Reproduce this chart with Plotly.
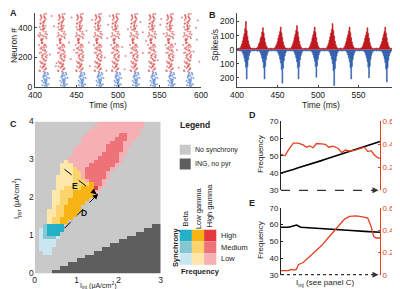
import plotly.graph_objects as go

FONT = "Liberation Sans, Arial, sans-serif"
W, H = 400, 289
TXT = "#222222"
RED_LINE = "#e2401e"


def px(x):
    return x / W


def py(y):
    return 1 - y / H


# ---------------- Panel A: raster ----------------
pyr_burst_t = [409.6, 431.7, 453.7, 475.9, 496.7, 519.3, 541.0, 562.3, 583.5]
int_burst_t = [411.5, 433.5, 455.5, 477.0, 498.5, 520.5, 542.0, 563.5, 585.5]
pyr_spike_offset = [-4.1, 1.2, -0.5, 3.3, -2.7, 0.8, 2.1, -1.6, 4.2, -3.4,
                    0.1, 1.9, -0.9, 2.8, -2.2, 3.9, -1.1, 0.5, -3.8, 1.5,
                    2.5, -0.3, -2.9, 3.1, 0.9, -1.9, 4.6, -4.5, 1.7, -0.7,
                    2.3, -2.4, 0.3, 3.6, -1.4, -3.1, 1.1, 2.7, -0.1, -2.0,
                    4.0, 0.6, -3.6, 1.4, -1.2, 2.9, -0.4, 3.4, -2.6, 0.0,
                    1.8, -4.8, 2.2, -1.7, 0.7, 3.7, -0.8, -3.2, 1.3, 5.0,
                    -3.0, 2.0, -1.0, 0.4, 3.0, -2.1, 1.0, -0.2, 2.6, -3.5,
                    0.7, -1.5, 4.4, -2.8, 1.6, -0.6, 3.2, -4.0, 0.2, 2.4,
                    -1.3, 3.8, -2.3, 1.1, -0.4, 2.0, -3.3, 0.9, 4.1, -1.8]
pyr_spike_neuron = [112, 478, 301, 205, 389, 143, 447, 256, 330, 172,
                    421, 288, 129, 360, 233, 495, 318, 190, 405, 266,
                    152, 437, 351, 121, 279, 463, 214, 341, 398, 168,
                    245, 480, 135, 373, 296, 452, 186, 224, 409, 327,
                    272, 105, 365, 491, 198, 414, 157, 339, 430, 249,
                    117, 283, 468, 310, 222, 180, 387, 261, 444, 355,
                    139, 470, 215, 396, 284, 162, 433, 325, 250, 108,
                    377, 297, 199, 486, 141, 348, 458, 230, 412, 176,
                    268, 126, 317, 392, 209, 156, 428, 342, 237, 471]
int_spike_offset = [-2.5, 0.5, 1.8, -1.2, 3.0, 0.0, 2.4, -0.6, 1.1, 4.2,
                    -1.8, 0.9, 2.9, -0.2, 1.5, 3.6, -2.9, 0.3, 2.1, 5.5,
                    -0.9, 1.3, 2.6, 0.7, 4.8]
int_spike_neuron = [12, 45, 78, 30, 62, 90, 5, 55, 22, 85,
                    68, 38, 15, 72, 50, 95, 42, 8, 33, 60,
                    80, 25, 48, 98, 18]
pyr_bg_t = [404, 418, 423, 426, 441, 444, 447, 462, 466, 469,
            484, 487, 490, 505, 508, 512, 527, 530, 534, 548,
            551, 555, 569, 573, 577, 591, 594, 598, 420, 465,
            509, 552, 595, 425, 488, 530, 571, 443, 486, 596]
pyr_bg_n = [350, 220, 410, 160, 300, 470, 250, 380, 140, 455,
            200, 330, 480, 270, 120, 390, 440, 230, 310, 180,
            420, 360, 290, 130, 470, 240, 400, 170, 480, 300,
            210, 460, 320, 140, 420, 370, 250, 190, 110, 450]

# ---------------- Panel B: population rates (1 ms bins from 400 ms) ----------------
pyr_rate = [9, 7, 10, 8,
            14, 24, 40, 62, 88, 112, 150, 200, 135, 95, 62, 36, 20, 11,
            8, 10, 7, 12, 9, 8, 11,
            13, 22, 41, 52, 80, 94, 125, 155, 118, 82, 50, 30, 17, 10,
            9, 7, 11, 8, 10, 9, 7, 12,
            14, 25, 40, 58, 82, 104, 128, 160, 120, 86, 54, 32, 18, 11,
            8, 10, 9, 7, 11, 9,
            15, 26, 42, 62, 88, 110, 138, 170, 128, 90, 58, 34, 19, 10,
            9, 7, 10, 8, 11, 9, 7, 10,
            13, 24, 40, 58, 84, 106, 130, 160, 122, 86, 52, 30, 17, 10,
            8, 10, 7, 9, 11, 8, 10, 9,
            15, 28, 44, 66, 92, 118, 145, 185, 136, 96, 60, 35, 19, 11,
            9, 7, 10, 12, 8, 9, 7,
            14, 24, 41, 60, 84, 106, 132, 160, 120, 85, 54, 31, 18, 10,
            8, 11, 9, 7, 10, 8, 9, 11,
            13, 23, 38, 56, 80, 102, 126, 155, 116, 82, 50, 29, 16, 10,
            9, 7, 10, 8, 11, 9, 7, 10,
            14, 25, 40, 58, 84, 106, 130, 160, 118, 84, 52, 30, 17, 10,
            8, 10, 7, 9, 8, 11, 9, 14, 22, 38, 55]
int_rate = [6, 9, 5, 8, 10, 7,
            12, 22, 38, 60, 85, 125, 208, 120, 72, 42, 22, 12,
            8, 6, 10, 7, 9, 5, 8, 11, 7, 9,
            13, 24, 40, 62, 88, 130, 208, 118, 70, 40, 21, 11,
            7, 9, 6, 10, 8, 5, 9, 7, 10, 8,
            14, 26, 42, 66, 95, 140, 238, 130, 78, 45, 24, 12,
            8, 6, 9, 7, 10, 6, 8, 9,
            12, 22, 38, 60, 86, 128, 208, 120, 70, 40, 22, 11,
            7, 9, 6, 10, 8, 7, 9, 6, 10, 8,
            12, 21, 36, 58, 82, 120, 196, 115, 68, 38, 20, 11,
            8, 6, 9, 7, 10, 8, 6, 9, 7, 10,
            14, 26, 44, 68, 98, 150, 255, 135, 80, 46, 24, 12,
            7, 9, 6, 10, 8, 7, 9, 6, 8,
            12, 22, 38, 60, 86, 128, 208, 120, 70, 40, 22, 11,
            8, 6, 9, 7, 10, 8, 6, 9, 7, 10,
            12, 21, 37, 58, 84, 124, 200, 118, 68, 39, 21, 11,
            7, 9, 6, 10, 8, 7, 9, 6, 10, 8,
            13, 25, 42, 64, 92, 138, 230, 128, 75, 43, 23, 12,
            8, 6, 9, 7, 10, 6, 8, 9, 7, 12]
rate_t0 = 400

# ---------------- Panel C: regime map (rows: I_pyr 0..4 step 0.1, cols: I_int 0..3 step 0.1) ----------------
c_rows = [
    "g" * 4 + "d" * 26,
    "g" * 6 + "d" * 24,
    "g" * 8 + "d" * 22,
    "g" * 10 + "d" * 20,
    "g" * 12 + "d" * 18,
    "gg" + "bb" + "g" * 10 + "d" * 16,
    "g" + "bbb" + "g" * 12 + "d" * 14,
    "g" + "bbbb" + "g" * 13 + "d" * 12,
    "g" + "bbbb" + "g" * 15 + "d" * 10,
    "g" + "bBBBb" + "g" * 16 + "d" * 8,
    "g" + "bBTTT" + "g" * 18 + "d" * 6,
    "g" + "bBTTTT" + "g" * 19 + "d" * 4,
    "gg" + "BTTTT" + "g" * 21 + "d" * 2,
    "ggg" + "yYYOO" + "g" * 22,
    "ggg" + "yYYOOO" + "g" * 21,
    "ggg" + "yyYYOOO" + "g" * 20,
    "ggg" + "yyYYOOOO" + "g" * 19,
    "gggg" + "yYYOOOO" + "g" * 19,
    "gggg" + "yyYYOOOO" + "g" * 18,
    "gggg" + "yyYYOOOOO" + "g" * 17,
    "gggg" + "yyYYYOOOOO" + "g" * 16,
    "gggg" + "yyYYYOOOOOp" + "g" * 15,
    "ggggg" + "yyYYYYOOORp" + "g" * 14,
    "ggggg" + "yyyyYYYYOPPp" + "g" * 13,
    "ggggg" + "yyyyYYYpPPPp" + "g" * 13,
    "ggggg" + "yyyyYYpPPPPPp" + "g" * 12,
    "gggggg" + "yyyYYpPPPPPp" + "g" * 12,
    "gggggg" + "yyyYppPPPPPPp" + "g" * 11,
    "gggggg" + "yyyppppPPPPPPp" + "g" * 10,
    "g" * 7 + "y" + "p" * 6 + "P" * 6 + "p" + "g" * 9,
    "g" * 8 + "p" * 7 + "P" * 5 + "p" + "g" * 9,
    "g" * 9 + "p" * 7 + "P" * 4 + "pp" + "g" * 8,
    "g" * 9 + "p" * 8 + "P" * 4 + "p" + "g" * 8,
    "g" * 10 + "p" * 7 + "P" * 4 + "pp" + "g" * 7,
    "g" * 11 + "p" * 7 + "P" * 3 + "pp" + "g" * 7,
    "g" * 11 + "p" * 8 + "P" * 3 + "pp" + "g" * 6,
    "g" * 12 + "p" * 8 + "PP" + "ppp" + "g" * 5,
    "g" * 13 + "p" * 12 + "g" * 5,
    "g" * 14 + "p" * 12 + "g" * 4,
    "g" * 15 + "p" * 11 + "g" * 4,
]
regime_codes = ["g", "d", "b", "B", "T", "y", "Y", "O", "p", "P", "R"]
regime_colors = ["#c9c9c9", "#5e5e5e",
                 "#c9e6f1", "#86c6d1", "#22b1c6",
                 "#fde7a9", "#fcd46c", "#f6b512",
                 "#f6afb3", "#ee7378", "#e4393f"]
legend_freq = ["Beta", "Low gamma", "High gamma"]
legend_sync = ["High", "Medium", "Low"]
legend_grid = [["T", "O", "R"], ["B", "Y", "P"], ["b", "y", "p"]]
arrow_E = [(0.71, 2.74), (1.47, 2.09)]
arrow_D = [(0.71, 1.19), (1.51, 2.10)]

# ---------------- Panels D, E ----------------
d_x = [0, 0.04, 0.074, 0.124, 0.174, 0.224, 0.258, 0.291, 0.324, 0.358, 0.408, 0.448, 0.482,
       0.525, 0.575, 0.615, 0.649, 0.692, 0.742, 0.793, 0.843, 0.876, 0.91, 0.943, 0.977, 1.0]
d_freq = [40.0, 40.6, 41.2, 42.1, 43.1, 43.9, 44.6, 45.3, 45.8, 46.4, 47.2, 48.0, 48.6,
          49.4, 50.3, 51.0, 51.7, 52.5, 53.3, 54.3, 55.2, 55.8, 56.5, 57.2, 57.8, 58.3]
d_ppc = [0.313, 0.30, 0.35, 0.41, 0.41, 0.395, 0.375, 0.386, 0.37, 0.407, 0.404, 0.40, 0.375,
         0.383, 0.366, 0.328, 0.35, 0.342, 0.348, 0.36, 0.375, 0.337, 0.345, 0.307, 0.284, 0.278]
e_freq_x = [0, 0.074, 0.114, 0.157, 0.2, 0.308, 0.441, 0.575, 0.709, 0.843, 1.0]
e_freq = [58.5, 58.5, 59.0, 59.8, 58.5, 58.0, 57.5, 57.0, 56.5, 56.0, 55.5]
e_ppc_x = [0, 0.074, 0.107, 0.134, 0.157, 0.174, 0.224, 0.274, 0.341, 0.408, 0.475,
           0.542, 0.609, 0.642, 0.692, 0.759, 0.826, 0.876, 0.91, 0.936, 0.96, 1.0]
e_ppc = [0.036, 0.036, 0.048, 0.042, 0.05, 0.09, 0.11, 0.15, 0.20, 0.26, 0.33,
         0.40, 0.465, 0.50, 0.525, 0.53, 0.52, 0.51, 0.435, 0.345, 0.33, 0.33]

# =====================================================================
fig = go.Figure()

# A raster
rx, ry = [], []
for bt in pyr_burst_t:
    for o, n in zip(pyr_spike_offset, pyr_spike_neuron):
        rx.append(bt + o)
        ry.append(n)
rx += pyr_bg_t
ry += pyr_bg_n
bx, by = [], []
for bt in int_burst_t:
    for o, n in zip(int_spike_offset, int_spike_neuron):
        bx.append(bt + o)
        by.append(n)
fig.add_trace(go.Scatter(x=rx, y=ry, mode="markers", xaxis="x", yaxis="y",
                         marker=dict(size=2, color="rgba(214,68,68,0.62)", line=dict(width=0)),
                         hoverinfo="skip"))
fig.add_trace(go.Scatter(x=bx, y=by, mode="markers", xaxis="x", yaxis="y",
                         marker=dict(size=2, color="rgba(85,130,205,0.72)", line=dict(width=0)),
                         hoverinfo="skip"))

# B rates
t_pyr = [rate_t0 + i for i in range(len(pyr_rate))]
t_int = [rate_t0 + i for i in range(len(int_rate))]
fig.add_trace(go.Scatter(x=t_pyr, y=pyr_rate, mode="lines", line=dict(width=0.6, color="#b8141a", shape="hvh"),
                         fill="tozeroy", fillcolor="#c0181d", xaxis="x2", yaxis="y2", hoverinfo="skip"))
fig.add_trace(go.Scatter(x=t_int, y=[-v for v in int_rate], mode="lines",
                         line=dict(width=0.6, color="#2f5ca8", shape="hvh"),
                         fill="tozeroy", fillcolor="#3563b0", xaxis="x2", yaxis="y2", hoverinfo="skip"))

# C heatmap
code_index = {c: i for i, c in enumerate(regime_codes)}
z = [[code_index[ch] for ch in row] for row in c_rows]
n = len(regime_codes)
cscale = []
for i, col in enumerate(regime_colors):
    cscale.append([i / n, col])
    cscale.append([(i + 1) / n, col])
fig.add_trace(go.Heatmap(z=z, x0=0.05, dx=0.1, y0=0.05, dy=0.1, colorscale=cscale,
                         zmin=-0.5, zmax=n - 0.5, showscale=False, xaxis="x3", yaxis="y3",
                         hoverinfo="skip"))

# D
fig.add_trace(go.Scatter(x=d_x, y=d_freq, mode="lines", line=dict(color="black", width=1.6),
                         xaxis="x4", yaxis="y4", hoverinfo="skip"))
fig.add_trace(go.Scatter(x=d_x, y=d_ppc, mode="lines", line=dict(color=RED_LINE, width=1.3),
                         xaxis="x4", yaxis="y5", hoverinfo="skip"))
# E
fig.add_trace(go.Scatter(x=e_freq_x, y=e_freq, mode="lines", line=dict(color="black", width=1.6),
                         xaxis="x5", yaxis="y6", hoverinfo="skip"))
fig.add_trace(go.Scatter(x=e_ppc_x, y=e_ppc, mode="lines", line=dict(color=RED_LINE, width=1.3),
                         xaxis="x5", yaxis="y7", hoverinfo="skip"))

tickfont = dict(family=FONT, size=8.5, color=TXT)
tickfont_s = dict(family=FONT, size=8, color=TXT)
base_ax = dict(showgrid=False, zeroline=False, automargin=False, tickfont=tickfont)
tk = dict(ticks="inside", ticklen=2, tickcolor="#444", showline=True, linecolor="#444")

fig.update_layout(
    width=W, height=H, margin=dict(l=0, r=0, t=0, b=0),
    paper_bgcolor="white", plot_bgcolor="white", showlegend=False,
    font=dict(family=FONT, color=TXT),
    xaxis=dict(base_ax, **tk, domain=[px(27), px(193)], range=[400, 600], anchor="y",
               tickvals=[400, 450, 500, 550, 600]),
    yaxis=dict(base_ax, **tk, domain=[py(79), py(5)], range=[0, 500], anchor="x",
               tickvals=[0, 200, 400]),
    xaxis2=dict(base_ax, **tk, domain=[px(229), px(391)], range=[400, 600], anchor="y2",
                tickvals=[400, 450, 500, 550, 600]),
    yaxis2=dict(base_ax, **tk, domain=[py(79), py(5)], range=[-265, 260], anchor="x2",
                tickvals=[-200, -100, 0, 100, 200], ticktext=["200", "100", "0", "100", "200"]),
    xaxis3=dict(base_ax, domain=[px(26.7), px(152.7)], range=[0, 3], anchor="y3",
                tickvals=[0, 1, 2, 3], ticks="", showline=False),
    yaxis3=dict(base_ax, domain=[py(265.5), py(113.5)], range=[0, 4], anchor="x3",
                tickvals=[0, 1, 2, 3, 4], ticks="", showline=False),
    xaxis4=dict(base_ax, domain=[px(273), px(372)], range=[0, 1], anchor="y4",
                showticklabels=False, showline=False, ticks=""),
    yaxis4=dict(base_ax, domain=[py(182.3), py(113.3)], range=[30, 70], anchor="x4",
                tickvals=[30, 40, 50, 60, 70], tickfont=tickfont_s, showline=True,
                linecolor="#222", ticks="inside", ticklen=2, tickcolor="#222"),
    yaxis5=dict(base_ax, overlaying="y4", side="right", range=[0, 0.6], anchor="x4",
                tickvals=[0, 0.2, 0.4, 0.6], ticktext=["0", "0.2", "0.4", "0.6"],
                tickfont=dict(family=FONT, size=8, color=RED_LINE), showline=True,
                linecolor=RED_LINE, ticks="inside", ticklen=2, tickcolor=RED_LINE),
    xaxis5=dict(base_ax, domain=[px(273), px(372)], range=[0, 1], anchor="y6",
                showticklabels=False, showline=False, ticks=""),
    yaxis6=dict(base_ax, domain=[py(266.7), py(200)], range=[30, 70], anchor="x5",
                tickvals=[30, 40, 50, 60, 70], tickfont=tickfont_s, showline=True,
                linecolor="#222", ticks="inside", ticklen=2, tickcolor="#222"),
    yaxis7=dict(base_ax, overlaying="y6", side="right", range=[0, 0.6], anchor="x5",
                tickvals=[0, 0.2, 0.4, 0.6], ticktext=["0", "0.2", "0.4", "0.6"],
                tickfont=dict(family=FONT, size=8, color=RED_LINE), showline=True,
                linecolor=RED_LINE, ticks="inside", ticklen=2, tickcolor=RED_LINE),
)

shapes = []
annotations = []


def ann(text, x, y, size=9, color=TXT, angle=0, xanchor="center", bold=False, yanchor="middle"):
    if bold:
        text = "<b>" + text + "</b>"
    annotations.append(dict(text=text, x=px(x), y=py(y), xref="paper", yref="paper",
                            showarrow=False, xanchor=xanchor, yanchor=yanchor,
                            textangle=angle, font=dict(family=FONT, size=size, color=color)))


# panel letters
ann("A", 5, 5, 9, bold=True)
ann("B", 205, 7, 9, bold=True)
ann("C", 5, 116, 9, bold=True)
ann("D", 244, 107, 9, bold=True)
ann("E", 244, 195, 9, bold=True)

# axis titles
ann("Time (ms)", 100, 97, 8.5)
ann("Neuron #", 6, 38, 8.5, angle=-90)
ann("Time (ms)", 313, 97, 8.5)
ann("Spikes/s", 207, 37, 8.5, angle=-90)
ann("I<sub>int</sub> (μA/cm<sup>2</sup>)", 90, 277, 7)
ann("I<sub>pyr</sub> (μA/cm<sup>2</sup>)", 8, 191, 7.5, angle=-90)
ann("Frequency", 252, 146, 8, angle=-90)
ann("PPC", 392, 147, 8, color=RED_LINE, angle=-90)
ann("Frequency", 252, 232, 8, angle=-90)
ann("PPC", 392, 234, 8, color=RED_LINE, angle=-90)
ann("I<sub>inj</sub> (see panel C)", 317, 275, 8)

# C arrows
for (s, e), lab, lpos in [(arrow_E, "E", (0.95, 2.3)), (arrow_D, "D", (1.18, 1.58))]:
    shapes.append(dict(type="line", xref="x3", yref="y3", x0=s[0], y0=s[1], x1=e[0], y1=e[1],
                       line=dict(color="black", width=1, dash="dash")))
    tail = (e[0] - 0.1 * (e[0] - s[0]), e[1] - 0.1 * (e[1] - s[1]))
    annotations.append(dict(x=e[0], y=e[1], ax=tail[0], ay=tail[1], xref="x3", yref="y3",
                            axref="x3", ayref="y3", text="", showarrow=True, arrowhead=2,
                            arrowsize=1, arrowwidth=1.1, arrowcolor="black"))
    annotations.append(dict(x=lpos[0], y=lpos[1], xref="x3", yref="y3", text="<b>" + lab + "</b>",
                            showarrow=False, font=dict(family=FONT, size=8.5, color="#111")))

# D / E bottom arrows (drawn in paper space so they are not clipped by the plot area)
for ybase, dash, xa, ya in [(182.3, "dash", "x4", "y4"), (266.7, "dot", "x5", "y6")]:
    shapes.append(dict(type="line", xref="paper", yref="paper", x0=px(273), y0=py(ybase),
                       x1=px(367), y1=py(ybase), line=dict(color="#333", width=1.3, dash=dash)))
    annotations.append(dict(x=0.985, y=30, ax=0.93, ay=30, xref=xa, yref=ya, axref=xa, ayref=ya,
                            text="", showarrow=True, arrowhead=2, arrowsize=1, arrowwidth=1.2,
                            arrowcolor="#333"))

# Legend
ann("Legend", 170, 117, 8.5, xanchor="left", bold=True)
shapes.append(dict(type="rect", xref="paper", yref="paper", x0=px(171.7), x1=px(182.7),
                   y0=py(146.7), y1=py(136.7), fillcolor=regime_colors[0], line=dict(width=0)))
shapes.append(dict(type="rect", xref="paper", yref="paper", x0=px(171.7), x1=px(182.7),
                   y0=py(161.5), y1=py(150.5), fillcolor=regime_colors[1], line=dict(width=0)))
ann("No synchrony", 185, 141.5, 7, xanchor="left")
ann("ING, no pyr", 185, 156, 7, xanchor="left")

gx0, gy0, cw, ch = 171.7, 221.7, 12.2, 11.7
for r, row in enumerate(legend_grid):
    for c, code in enumerate(row):
        shapes.append(dict(type="rect", xref="paper", yref="paper",
                           x0=px(gx0 + c * cw), x1=px(gx0 + (c + 1) * cw),
                           y0=py(gy0 + (r + 1) * ch), y1=py(gy0 + r * ch),
                           fillcolor=regime_colors[code_index[code]], line=dict(width=0)))
    ann(legend_sync[r], gx0 + 3 * cw + 3, gy0 + (r + 0.5) * ch, 7.5, xanchor="left")
for c, lab in enumerate(legend_freq):
    L = 4.2 * len(lab)
    ann(lab, gx0 + (c + 0.5) * cw, 219 - L / 2, 7.5, angle=-90)
ann("Synchrony", 167, 239, 7.5, angle=-90, bold=True)
ann("Frequency", 192, 263, 7.5, bold=True)

fig.update_layout(shapes=shapes, annotations=annotations)
fig.write_html("out.html")
